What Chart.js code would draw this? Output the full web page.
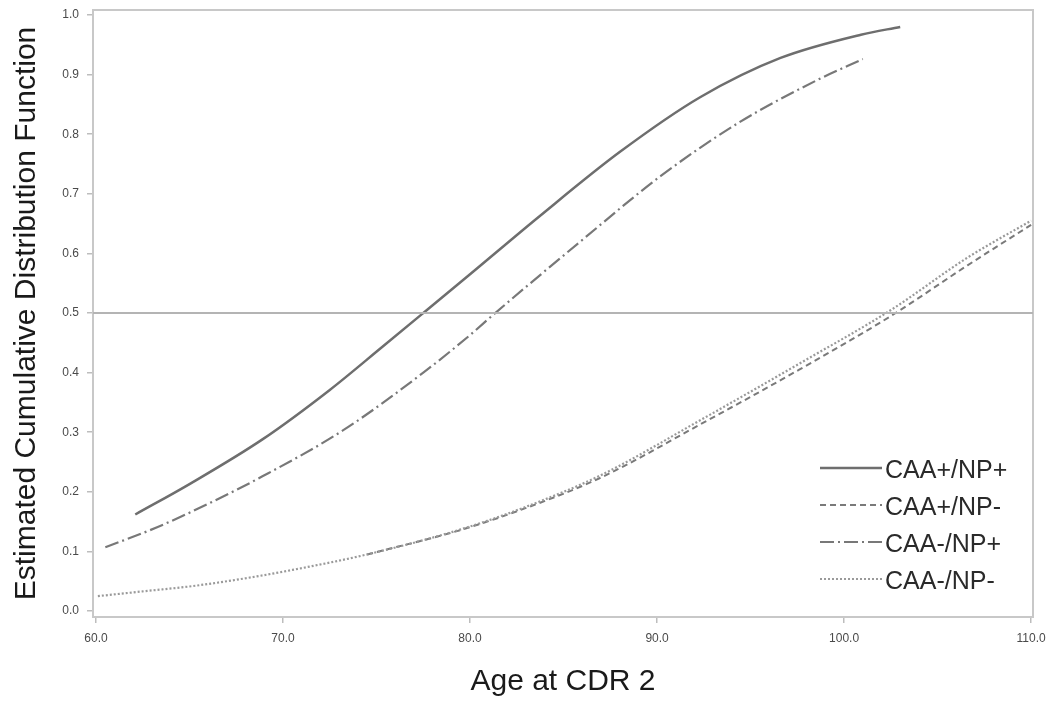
<!DOCTYPE html>
<html>
<head>
<meta charset="utf-8">
<script src="https://cdn.jsdelivr.net/npm/chart.js@4/dist/chart.umd.min.js"></script>
<style>
  html, body { margin: 0; padding: 0; background: #ffffff; }
  #wrap { width: 1050px; height: 712px; position: relative; }
</style>
</head>
<body>
<div id="wrap"><canvas id="c" width="1050" height="712"></canvas></div>
<script>
// ---- data ----
const seriesLabels = ["CAA+/NP+", "CAA+/NP-", "CAA-/NP+", "CAA-/NP-"];

const agePosPos = [62.1, 65.0, 68.9, 72.5, 75.3, 77.5, 80.0, 83.7, 88.0, 92.3, 96.6, 100.9, 103.0];
const cdfPosPos = [0.162, 0.213, 0.288, 0.371, 0.443, 0.500, 0.565, 0.662, 0.770, 0.862, 0.928, 0.967, 0.980];

const agePosNeg = [74.5, 79.5, 83.0, 87.0, 92.3, 97.6, 102.5, 106.6, 110.0];
const cdfPosNeg = [0.095, 0.136, 0.173, 0.224, 0.313, 0.405, 0.495, 0.580, 0.648];

const ageNegPos = [60.5, 63.3, 66.0, 68.9, 73.2, 77.5, 80.0, 81.2, 85.9, 90.2, 94.4, 98.7, 101.0];
const cdfNegPos = [0.107, 0.141, 0.180, 0.226, 0.303, 0.400, 0.463, 0.496, 0.620, 0.730, 0.820, 0.893, 0.926];

const ageNegNeg = [60.1, 62.5, 65.2, 68.0, 70.5, 74.5, 79.5, 83.0, 87.0, 92.3, 97.6, 102.5, 106.6, 110.0];
const cdfNegNeg = [0.025, 0.033, 0.042, 0.055, 0.069, 0.095, 0.137, 0.175, 0.228, 0.320, 0.415, 0.505, 0.593, 0.655];

const referenceLevel = 0.5;
const xTickValues = [60, 70, 80, 90, 100, 110];
const yTickValues = [0.0, 0.1, 0.2, 0.3, 0.4, 0.5, 0.6, 0.7, 0.8, 0.9, 1.0];
const xRange = [59.84, 110.1];
const yRange = [-0.01, 1.0084];

const xTitle = "Age at CDR 2";
const yTitle = "Estimated Cumulative Distribution Function";

// ---- helpers ----
const zip = (xs, ys) => xs.map((x, i) => ({ x: x, y: ys[i] }));
const FONT = "'Liberation Sans', Arial, Helvetica, sans-serif";

const frameColor = "#c8c8c8";

const datasets = [
  {
    label: "ref",
    data: [{ x: xRange[0], y: referenceLevel }, { x: xRange[1], y: referenceLevel }],
    borderColor: "#b4b4b4", borderWidth: 2, pointRadius: 0, showLine: true, isRef: true
  },
  {
    label: seriesLabels[3], data: zip(ageNegNeg, cdfNegNeg),
    borderColor: "#9a9a9a", borderWidth: 2.2, borderDash: [2, 2],
    pointRadius: 0, showLine: true, cubicInterpolationMode: "monotone", legendOrder: 3
  },
  {
    label: seriesLabels[1], data: zip(agePosNeg, cdfPosNeg),
    borderColor: "#7a7a7a", borderWidth: 2, borderDash: [6, 4],
    pointRadius: 0, showLine: true, cubicInterpolationMode: "monotone", legendOrder: 1
  },
  {
    label: seriesLabels[2], data: zip(ageNegPos, cdfNegPos),
    borderColor: "#787878", borderWidth: 2.2, borderDash: [14, 4, 2, 4],
    pointRadius: 0, showLine: true, cubicInterpolationMode: "monotone", legendOrder: 2
  },
  {
    label: seriesLabels[0], data: zip(agePosPos, cdfPosPos),
    borderColor: "#6e6e6e", borderWidth: 2.5, borderDash: [],
    pointRadius: 0, showLine: true, cubicInterpolationMode: "monotone", legendOrder: 0
  }
];

const framePlugin = {
  id: "frame",
  beforeDatasetsDraw(chart) {
    const { ctx, chartArea: a } = chart;
    ctx.save();
    ctx.strokeStyle = frameColor;
    ctx.lineWidth = 2;
    ctx.strokeRect(a.left, a.top, a.right - a.left, a.bottom - a.top);
    ctx.restore();
  }
};

const insideLegend = {
  id: "insideLegend",
  afterDatasetsDraw(chart) {
    const { ctx, chartArea: a } = chart;
    const items = chart.data.datasets.filter(d => !d.isRef)
      .sort((p, q) => p.legendOrder - q.legendOrder);
    const x0 = a.right - 213, x1 = a.right - 151, tx = a.right - 148;
    let y = a.bottom - 149;
    ctx.save();
    ctx.font = "25px " + FONT;
    ctx.textBaseline = "middle";
    ctx.textAlign = "left";
    items.forEach(d => {
      ctx.beginPath();
      ctx.setLineDash(d.borderDash || []);
      ctx.strokeStyle = d.borderColor;
      ctx.lineWidth = d.borderWidth;
      ctx.moveTo(x0, y);
      ctx.lineTo(x1, y);
      ctx.stroke();
      ctx.setLineDash([]);
      ctx.fillStyle = "#2a2a2a";
      ctx.fillText(d.label, tx, y + 3);
      y += 37;
    });
    ctx.restore();
  }
};

new Chart(document.getElementById("c"), {
  type: "scatter",
  data: { datasets: datasets },
  options: {
    responsive: false,
    animation: false,
    devicePixelRatio: 1,
    layout: { padding: { top: 10, right: 17, left: 0, bottom: 0 } },
    plugins: { legend: { display: false }, tooltip: { enabled: false } },
    scales: {
      x: {
        type: "linear",
        min: xRange[0], max: xRange[1],
        afterFit(s) { s.height = 95; s.paddingLeft = 0; s.paddingRight = 0; },
        afterBuildTicks(s) { s.ticks = xTickValues.map(v => ({ value: v })); },
        ticks: {
          autoSkip: false, maxRotation: 0, padding: 8,
          color: "#4a4a4a", font: { family: FONT, size: 12 },
          callback: v => Number(v).toFixed(1)
        },
        grid: { drawOnChartArea: false, drawTicks: true, tickLength: 6, color: "#bdbdbd", lineWidth: 1.5 },
        border: { display: true, color: frameColor, width: 2 },
        title: {
          display: true, text: xTitle, color: "#1a1a1a",
          font: { family: FONT, size: 30 }, padding: { top: 0, bottom: 12 }
        }
      },
      y: {
        type: "linear",
        min: yRange[0], max: yRange[1],
        afterFit(s) { s.width = 93; s.paddingTop = 0; s.paddingBottom = 0; },
        afterBuildTicks(s) { s.ticks = yTickValues.map(v => ({ value: v })); },
        ticks: {
          autoSkip: false, padding: 8,
          color: "#4a4a4a", font: { family: FONT, size: 12 },
          callback: v => Number(v).toFixed(1)
        },
        grid: { drawOnChartArea: false, drawTicks: true, tickLength: 6, color: "#bdbdbd", lineWidth: 1.5 },
        border: { display: true, color: frameColor, width: 2 },
        title: {
          display: true, text: yTitle, color: "#1a1a1a",
          font: { family: FONT, size: 30 }, padding: { top: 9, bottom: 0 }
        }
      }
    }
  },
  plugins: [framePlugin, insideLegend]
});
</script>
</body>
</html>
